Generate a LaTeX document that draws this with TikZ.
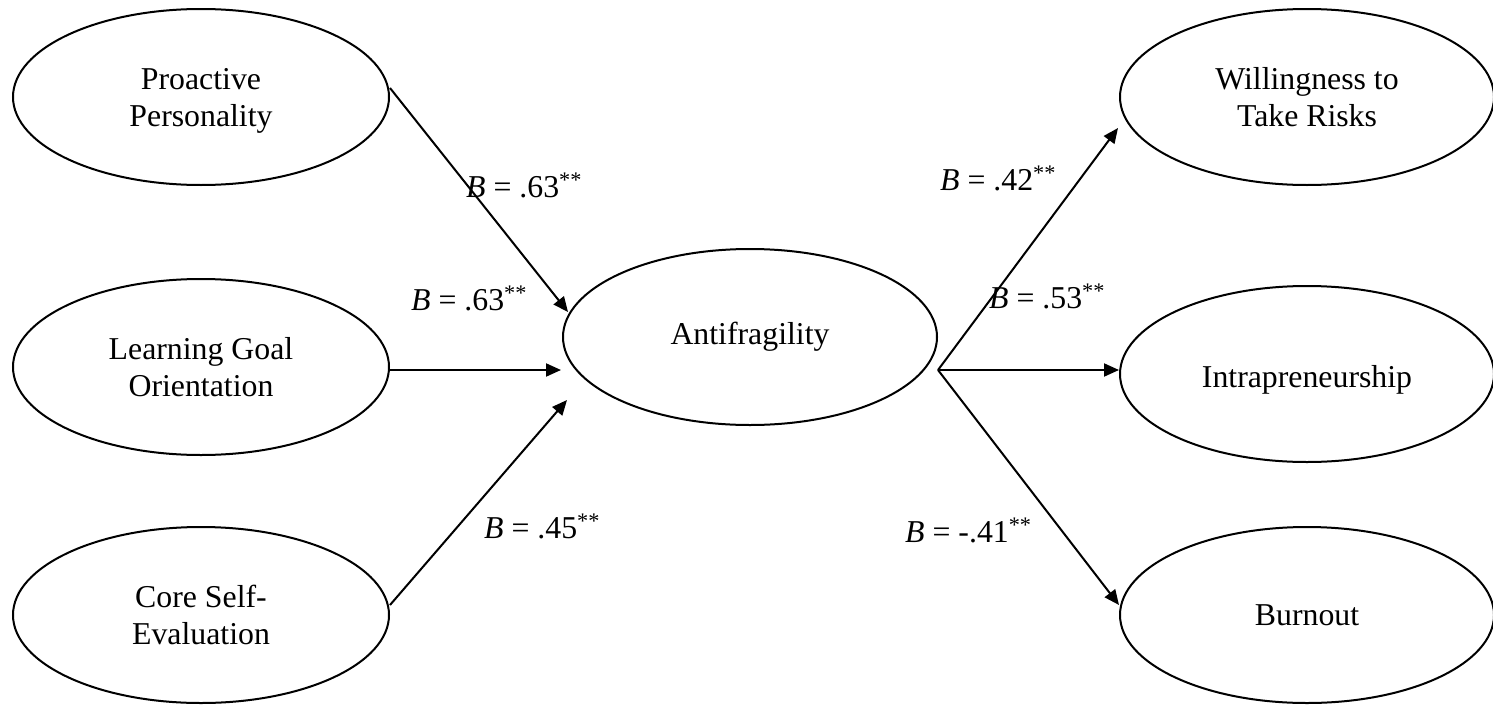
\documentclass[tikz,border=0pt]{standalone}
\usepackage{fontspec}
\setmainfont{Liberation Serif}
\usetikzlibrary{arrows.meta,calc,shapes.geometric}
\begin{document}
\begin{tikzpicture}[x=1pt,y=-1pt,
  construct/.style={draw,ellipse,line width=2pt,minimum width=376pt,minimum height=176pt,
    inner sep=0pt,align=center,font=\fontsize{31.8pt}{37pt}\selectfont},
  conn/.style={line width=2pt,-{Triangle[length=15pt,width=13pt]}},
  coef/.style={anchor=base west,inner sep=0pt,font=\fontsize{31.8pt}{37pt}\selectfont}]
\useasboundingbox (0,0) rectangle (1493,704);
\node[construct] (P) at (201,97) {Proactive\\\raisebox{0pt}[\height][0pt]{Personality}};
\node[construct] (L) at (201,367) {Learning Goal\\Orientation};
\node[construct] (C) at (201,615) {Core Self-\\Evaluation};
\node[construct,minimum width=374pt] (A) at (750,337) {Antifragility};
\node[construct,minimum width=374pt] (W) at (1307,97) {Willingness to\\Take Risks};
\node[construct,minimum width=374pt] (I) at (1307,374) {\raisebox{-6pt}[\height][\depth]{Intrapreneurship}};
\node[construct,minimum width=374pt] (Bu) at (1307,615) {Burnout};
\coordinate (Aout) at ($(A.east)+(0,33)$);
\draw[conn] ($(P.east)+(0,-9)$) -- ($(A.west)+(6,-25)$);
\draw[conn] ($(L.east)+(0,3)$) -- ($(A.west)+(-1,33)$);
\draw[conn] ($(C.east)+(0,-10)$) -- ($(A.west)+(5,63)$);
\draw[conn] (Aout) -- ($(W.west)+(-1,31)$);
\draw[conn] (Aout) -- (Aout -| I.west);
\draw[conn] (Aout) -- ($(Bu.west)+(0,-10)$);
\node[coef] (lP) at (466,197) {\textit{B} = .63\textsuperscript{**}};
\node[coef] (lL) at (411,310) {\textit{B} = .63\textsuperscript{**}};
\node[coef] (lC) at (484,538) {\textit{B} = .45\textsuperscript{**}};
\node[coef] (lW) at (940,190) {\textit{B} = .42\textsuperscript{**}};
\node[coef] (lI) at (989,308) {\textit{B} = .53\textsuperscript{**}};
\node[coef] (lB) at (905,542) {\textit{B} = -.41\textsuperscript{**}};
\end{tikzpicture}
\end{document}
